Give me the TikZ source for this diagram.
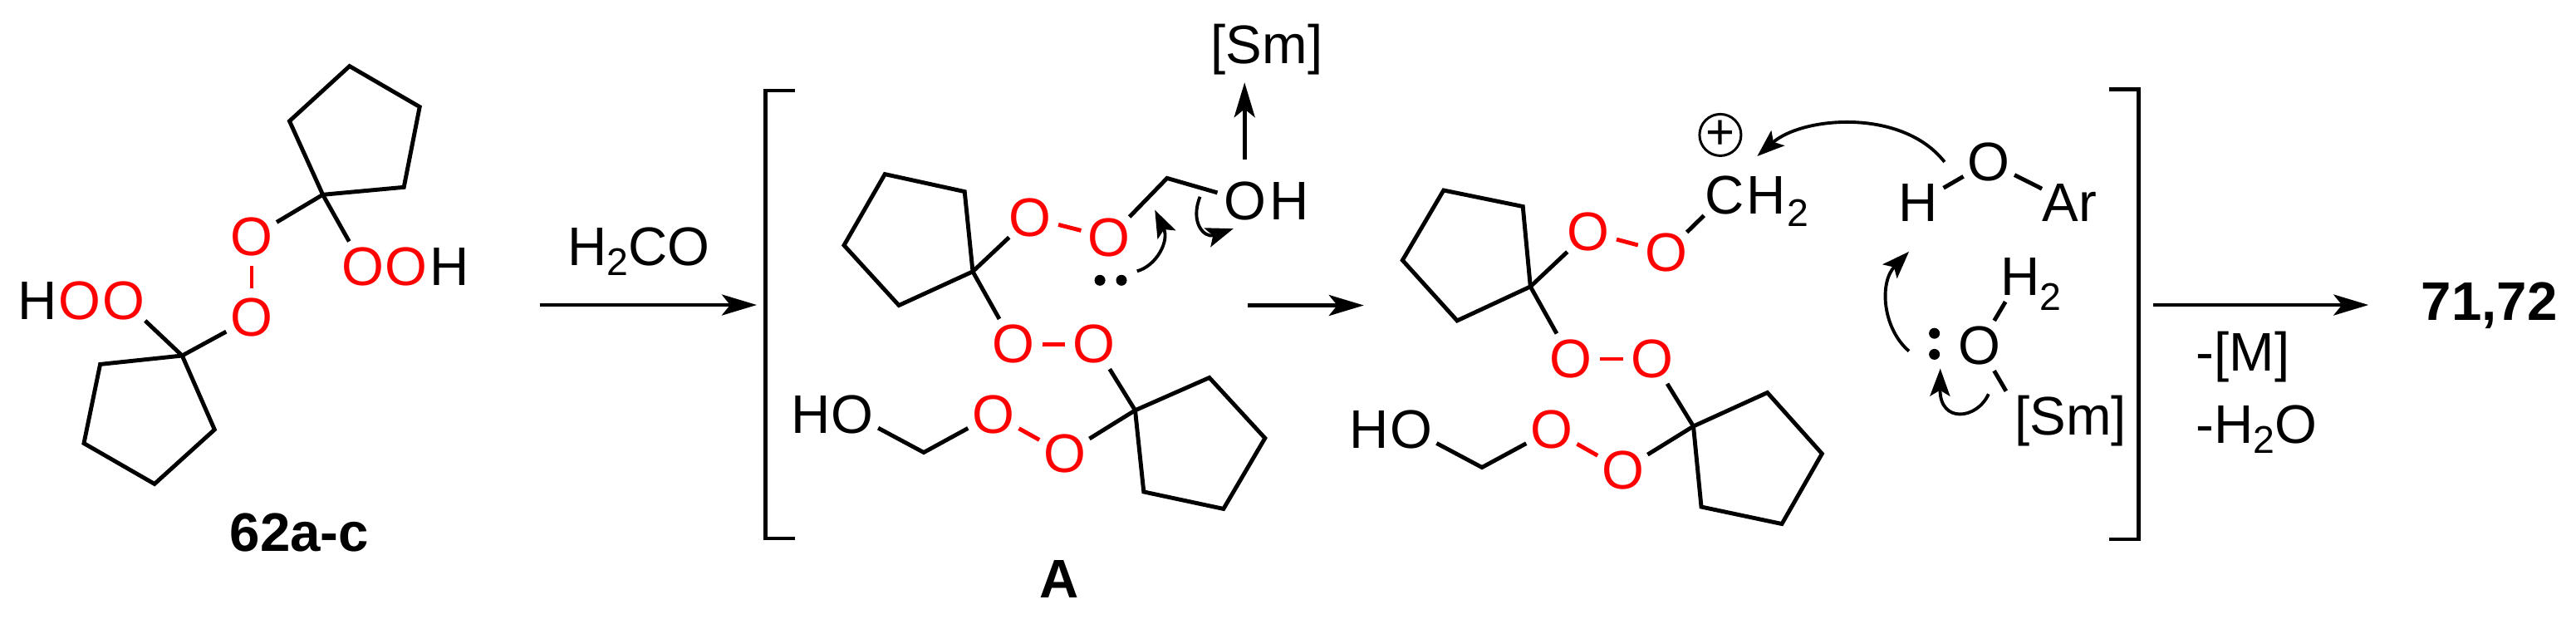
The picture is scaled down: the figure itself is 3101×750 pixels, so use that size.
\documentclass[tikz,border=0pt]{standalone}
\usepackage{fontspec}
\setmainfont{Liberation Sans}
\usetikzlibrary{arrows.meta}
\newcommand{\subtwo}{\raisebox{-3.5pt}{\fontsize{13.2}{14}\selectfont 2}}
\tikzset{
  bond/.style={line width=1.4pt},
  oobond/.style={line width=1.4pt, red},
  atom/.style={circle, inner sep=0, minimum size=0.68cm, font=\fontsize{18.6}{20}\selectfont},
  oxy/.style={atom, text=red},
  txt/.style={inner sep=0, font=\fontsize{18.6}{20}\selectfont},
  metal/.style={txt, inner xsep=0.1cm, inner ysep=0.08cm},
  digit/.style={inner sep=0, font=\fontsize{13.2}{14}\selectfont},
  title/.style={inner sep=0, font=\fontsize{18.6}{20}\selectfont\bfseries},
  lonepair/.style={circle, fill, inner sep=0, minimum size=0.13cm},
  react/.style={line width=1.3pt, -{Stealth[length=0.42cm,width=0.25cm,inset=0.1cm]}},
  elarrow/.style={line width=1.1pt, -{Stealth[length=0.33cm,width=0.24cm,inset=0.07cm]}},
}
\begin{document}
\begin{tikzpicture}[x=0.01cm, y=-0.01cm]
        \useasboundingbox (0,0) rectangle (3101,750);

        % Peroxide 62a-c, upper ring
        \coordinate (ca) at (388.6,234.3);
        \draw[bond] (ca) -- (348.5,145.7) -- (420.8,79.6) -- (505.2,128.6) -- (486.2,225.3) -- cycle;
        \node[oxy] (ca1) at (303,285.3) {O};
        \node[oxy] (ca2) at (437.4,321) {O};
        \node[oxy] (ca3) at (489,321) {O};
        \node[atom] (cah) at (541.3,321) {H};
        \draw[bond] (ca) -- (ca1);
        \draw[bond] (ca) -- (ca2);

        % Peroxide 62a-c, lower ring
        \coordinate (cb) at (219.3,428);
        \draw[bond] (cb) -- (258.3,517) -- (186,582.4) -- (101,533.5) -- (120.6,438.4) -- cycle;
        \node[oxy] (cb1) at (303,382.4) {O};
        \node[oxy] (cb2) at (149.3,362) {O};
        \node[oxy] (cb3) at (96.4,362) {O};
        \node[atom] (cbh) at (44.8,362) {H};
        \draw[bond] (cb) -- (cb1);
        \draw[bond] (cb) -- (cb2);
        \draw[oobond] (ca1) -- (cb1);
        \node[title] (lab62) at (360.5,641) {62a-c};

        % First arrow
        \coordinate (ar1s) at (650,367);
        \coordinate (ar1e) at (911,367);
        \draw[react] (ar1s) -- (ar1e);
        \node[txt, anchor=base west] (hco) at (683,319) {H\subtwo CO};

        % Left bracket
        \draw[bond] (957,109) -- (921.4,109) -- (921.4,648) -- (957,648);

        % Intermediate A, upper ring
        \coordinate (cc) at (1171,326.8);
        \draw[bond] (cc) -- (1161.2,230.6) -- (1065.2,209.6) -- (1016,295.2) -- (1082.1,367.5) -- cycle;
        \node[oxy] (cc1) at (1240.2,261.7) {O};
        \node[oxy] (cc2) at (1335.3,286.1) {O};
        \coordinate (cc3) at (1404.9,214.4);
        \node[atom] (oha) at (1499.1,241.6) {O};
        \node[atom] (ohb) at (1551.8,241.6) {H};
        \draw[bond] (cc) -- (cc1);
        \draw[oobond] (cc1) -- (cc2);
        \draw[bond] (cc2) -- (cc3) -- (oha);
        \node[oxy] (cc4) at (1220.1,414.4) {O};
        \node[oxy] (cc5) at (1317.4,414.4) {O};
        \draw[bond] (cc) -- (cc4);
        \draw[oobond] (cc4) -- (cc5);

        % Intermediate A, lower ring
        \coordinate (cd) at (1366.5,493.8);
        \draw[bond] (cd) -- (1455.8,454.5) -- (1522.8,527.3) -- (1472.8,612.4) -- (1376.8,591.9) -- cycle;
        \node[oxy] (cd1) at (1281.7,546.4) {O};
        \node[oxy] (cd2) at (1196,498.6) {O};
        \coordinate (cd3) at (1112,544.5);
        \node[atom] (hoa) at (1026.3,498.6) {O};
        \node[atom] (hob) at (975.9,498.6) {H};
        \draw[bond] (cc5) -- (cd);
        \draw[bond] (cd) -- (cd1);
        \draw[oobond] (cd1) -- (cd2);
        \draw[bond] (cd2) -- (cd3) -- (hoa);
        \node[title] (laba) at (1275,697) {A};

        % Leaving [Sm] and electron pair
        \node[metal] (smtop) at (1525,60) {[Sm]};
        \coordinate (smfrom) at (1498.2,192.3);
        \draw[react] (smfrom) -- (smfrom |- smtop.south);
        \node[lonepair] (lpa) at (1324.1,337.3) {};
        \node[lonepair] (lpb) at (1350,337.3) {};
        \coordinate (ea1) at (1368.8,326.3);
        \coordinate (ea2) at (1390.2,252.6);
        \draw[elarrow] (ea1) .. controls (1392,320) and (1408,290) .. (ea2);
        \coordinate (eb1) at (1444.6,236.8);
        \coordinate (eb2) at (1484.8,275.1);
        \draw[elarrow] (eb1) .. controls (1432,268) and (1450,287) .. (eb2);

        % Second arrow
        \coordinate (ar2s) at (1501.8,367.5);
        \coordinate (ar2e) at (1641.8,367.5);
        \draw[react] (ar2s) -- (ar2e);

        % Cation, upper ring
        \coordinate (ce) at (1842.3,344.9);
        \draw[bond] (ce) -- (1833.2,248.5) -- (1737.8,229) -- (1688.3,313.2) -- (1754.1,385.9) -- cycle;
        \node[oxy] (ce1) at (1912.2,279.1) {O};
        \node[oxy] (ce2) at (2005.6,304) {O};
        \node[atom] (cha) at (2076,235.1) {C};
        \node[atom] (chb) at (2126,235.1) {H};
        \node[digit] (chc) at (2164,256.5) {2};
        \node[circle, draw, line width=0.85pt, inner sep=0, minimum size=0.5cm, font=\fontsize{17}{17}\selectfont] (plus) at (2070.9,162.4) {+};
        \draw[bond] (ce) -- (ce1);
        \draw[oobond] (ce1) -- (ce2);
        \draw[bond] (ce2) -- (cha);
        \node[oxy] (ce3) at (1891,432) {O};
        \node[oxy] (ce4) at (1988.7,432) {O};
        \draw[bond] (ce) -- (ce3);
        \draw[oobond] (ce3) -- (ce4);

        % Cation, lower ring
        \coordinate (cf) at (2038.5,513);
        \draw[bond] (cf) -- (2127.5,472.5) -- (2193.3,546) -- (2145,630.5) -- (2048,610) -- cycle;
        \node[oxy] (cf1) at (1953.6,565.5) {O};
        \node[oxy] (cf2) at (1868,517) {O};
        \coordinate (cf3) at (1784,562.5);
        \node[atom] (hoc) at (1698.5,517) {O};
        \node[atom] (hod) at (1648,517) {H};
        \draw[bond] (ce4) -- (cf);
        \draw[bond] (cf) -- (cf1);
        \draw[oobond] (cf1) -- (cf2);
        \draw[bond] (cf2) -- (cf3) -- (hoc);

        % ArOH
        \node[atom] (arh) at (2309.5,243.6) {H};
        \node[atom] (aro) at (2393.8,194.8) {O};
        \node[txt] (arr) at (2491.5,244) {Ar};
        \draw[bond] (arh) -- (aro);
        \draw[bond] (aro) -- (arr);

        % Water on [Sm]
        \node[atom] (owat) at (2382.9,416) {O};
        \node[atom] (wh) at (2431.8,333.3) {H};
        \node[digit] (wh2) at (2468.7,357) {2};
        \node[metal] (smlow) at (2492.8,507) {[Sm]};
        \draw[bond] (owat) -- (wh);
        \draw[bond] (owat) -- (smlow.155);
        \node[lonepair] (lpc) at (2328.6,401.2) {};
        \node[lonepair] (lpd) at (2328.6,426.4) {};

        % Electron shifts on the right
        \coordinate (ec1) at (2340.8,194.9);
        \coordinate (ec2) at (2115.3,188);
        \draw[elarrow] (ec1) .. controls (2290,130) and (2170,140) .. (ec2);
        \coordinate (ed1) at (2298,422.6);
        \coordinate (ed2) at (2298,302.8);
        \draw[elarrow] (ed1) .. controls (2266,395) and (2262,340) .. (ed2);
        \coordinate (ee1) at (2393.8,474.2);
        \coordinate (ee2) at (2335.7,443.6);
        \draw[elarrow] (ee1) .. controls (2380,505) and (2335,510) .. (ee2);

        % Right bracket
        \draw[bond] (2538.7,107.6) -- (2574,107.6) -- (2574,649) -- (2538.7,649);

        % Last arrow
        \coordinate (ar3s) at (2591.8,367);
        \coordinate (ar3e) at (2851.2,367);
        \draw[react] (ar3s) -- (ar3e);
        \node[txt, anchor=base west] (lossm) at (2643,446.6) {-[M]};
        \node[txt, anchor=base west] (lossw) at (2643,533.5) {-H\subtwo O};
        \node[title] (lab71) at (2996.6,368) {71,72};
\end{tikzpicture}
\end{document}
